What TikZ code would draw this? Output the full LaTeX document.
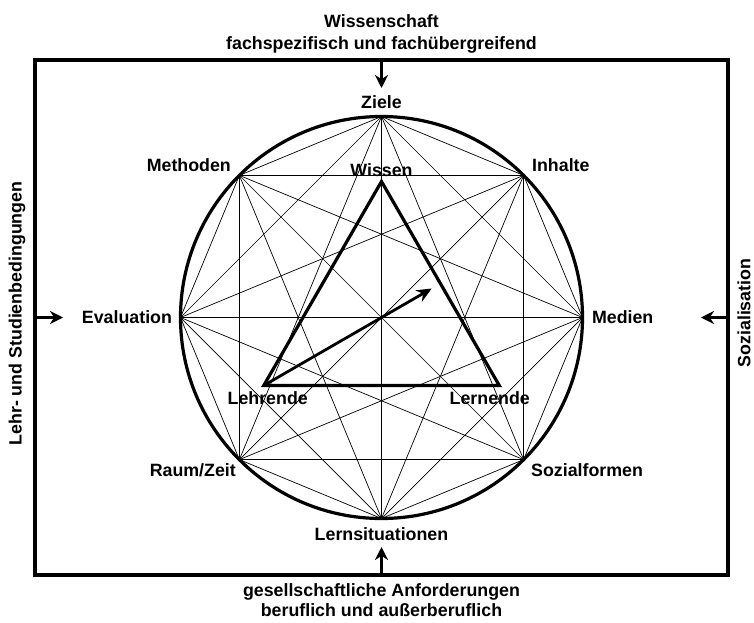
\documentclass[tikz,border=0pt]{standalone}
\usepackage{fontspec}
\setmainfont{Liberation Sans}
\usetikzlibrary{arrows.meta}
\tikzset{>=Stealth,every node/.style={font=\bfseries\fontsize{17.8}{22}\selectfont},kante/.style={line width=.7pt,black},rahmen/.style={line width=3.2pt},einfluss/.style={line width=2.8pt,-{Stealth[length=13pt,width=13pt]}}}

\begin{document}
\begin{tikzpicture}[x=1pt,y=1pt]
\useasboundingbox (-381.5,-304.5) rectangle (372.5,317.5);
\draw[rahmen] (-346.5,-257.5) rectangle (346.5,257.5);
\foreach \i in {0,...,7}{\coordinate (p\i) at (90-45*\i:201);}
\foreach \i in {0,...,6}{\pgfmathtruncatemacro\s{\i+1}\foreach \j in {\s,...,7}{\draw[kante] (p\i)--(p\j);}}
\draw[line width=3.2pt] (0,0) circle(201);
\node[above=4pt] (ziele) at (p0){Ziele};\node[anchor=south east,xshift=-5pt,yshift=0pt] (meth) at (p7){Methoden};
\node[anchor=south west,xshift=5pt,yshift=0pt] (inhalte) at (p1){Inhalte};
\node[left=5pt] (eval) at (p6){Evaluation};\node[right=6pt] (medien) at (p2){Medien};
\node[anchor=north east] (raum) at (p5){Raum/Zeit};\node[anchor=north west,xshift=4pt] (sozf) at (p3){Sozialformen};
\node[below=6pt] (lsit) at (p4){Lernsituationen};
% Dreieck
\coordinate (wis) at (90:136);\coordinate (lehr) at (210:136);\coordinate (lern) at (330:136);
\draw[line width=3.2pt] (wis)--(lehr)--(lern)--cycle;
\node[above=1pt] (wissen) at (wis){Wissen};\node[below=3pt,xshift=4pt] (lehrende) at (lehr){Lehrende};\node[below=3pt,xshift=-9.5pt] (lernende) at (lern){Lernende};
\coordinate (spitze) at (30:58);\draw[line width=2.8pt,-{Stealth[length=15pt,width=13pt]}] (lehr)--(spitze);
% Rahmen
\coordinate (ro) at (0,257.5);\coordinate (zo) at (0,229.5);\coordinate (ru) at (0,-257.5);\coordinate (zu) at (0,-229.5);
\coordinate (rl) at (-346.5,0);\coordinate (zl) at (-318.5,0);\coordinate (rr) at (346.5,0);\coordinate (zr) at (319.5,0);
\draw[einfluss] (ro)--(zo);\draw[einfluss] (ru)--(zu);\draw[einfluss] (rl)--(zl);\draw[einfluss] (rr)--(zr);
\node[align=center] (wiss) at (0,283.5){Wissenschaft\\fachspezifisch und fachübergreifend};
\node[align=center,font=\bfseries\fontsize{17.8}{20}\selectfont] (ges) at (0,-283){gesellschaftliche Anforderungen\\beruflich und außerberuflich};
\node[rotate=90] (lsb) at (-364.5,4){Lehr- und Studienbedingungen};\node[rotate=90] (soz) at (362.5,4.5){Sozialisation};
\end{tikzpicture}
\end{document}
